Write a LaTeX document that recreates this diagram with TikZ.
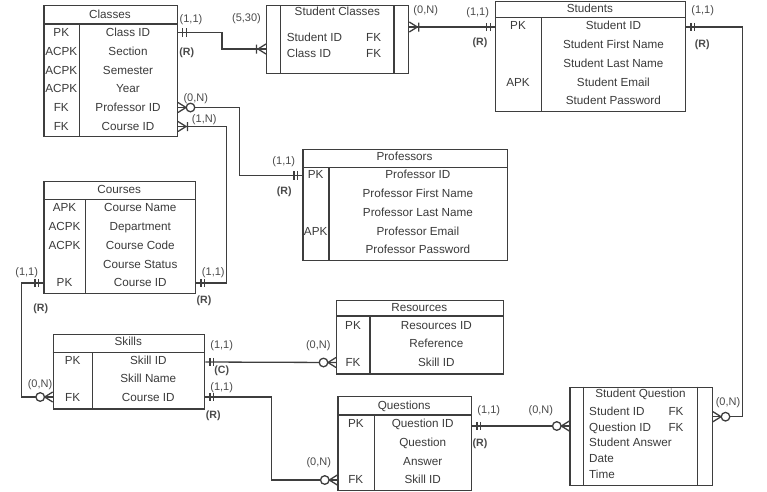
\documentclass[tikz,border=0pt]{standalone}
\usepackage{fontspec}
\setmainfont{Liberation Sans}
\definecolor{boxc}{HTML}{3E3E3E}
\definecolor{txtc}{HTML}{3A3A3A}
\definecolor{lblc}{HTML}{4A4A4A}
\begin{document}
\begin{tikzpicture}[x=1pt,y=-1pt,
  tbox/.style={draw=boxc, line width=1.3pt, inner sep=0pt, anchor=north west},
  tline/.style={draw=boxc, line width=1.3pt},
  conn/.style={draw=boxc, line width=1.3pt},
  txt/.style={font=\fontsize{11.7}{14}\selectfont, text=txtc, inner sep=0pt, text height=8.4pt, text depth=0pt},
  ltxt/.style={txt, anchor=west},
  lbl/.style={font=\fontsize{11}{13}\selectfont, text=lblc, inner sep=0pt, text height=7.9pt, text depth=0pt},
  rlbl/.style={font=\fontsize{10.6}{13}\selectfont\bfseries, text=lblc, inner sep=0pt, text height=7.6pt, text depth=0pt},
  crowone/.pic={\draw[conn] (4.8,-4.2)--(4.8,4.2) (8.3,-4.2)--(8.3,4.2);},
  crowzm/.pic={\draw[conn] (0,-5)--(8,0)--(0,5); \draw[conn,fill=white] (12.5,0) circle (4.3);},
  crowom/.pic={\draw[conn] (0,-5)--(8,0)--(0,5) (9.5,-4.5)--(9.5,4.5);}
]
\useasboundingbox (0,0) rectangle (767,491);

% ---------------- Classes ----------------
\node[tbox, minimum width=133.4pt, minimum height=131pt] (classes) at (43.3,5) {};
\draw[tline] (43.3,24) -- (176.7,24) (79.3,24) -- (79.3,136);
\node[txt] (cl-t) at (110,14) {Classes};
\node[txt] (cl-k1) at (61.3,32.3) {PK};
\node[txt] (cl-k2) at (61.3,51) {ACPK};
\node[txt] (cl-k3) at (61.3,70) {ACPK};
\node[txt] (cl-k4) at (61.3,88.7) {ACPK};
\node[txt] (cl-k5) at (61.3,107.3) {FK};
\node[txt] (cl-k6) at (61.3,126) {FK};
\node[txt] (cl-r1) at (128,32.3) {Class ID};
\node[txt] (cl-r2) at (128,51) {Section};
\node[txt] (cl-r3) at (128,70) {Semester};
\node[txt] (cl-r4) at (128,88.7) {Year};
\node[txt] (cl-r5) at (128,107.3) {Professor ID};
\node[txt] (cl-r6) at (128,126) {Course ID};

% ---------------- Student Classes ----------------
\node[tbox, minimum width=142pt, minimum height=68pt] (sc) at (266,5) {};
\draw[tline] (280.7,5) -- (280.7,73) (394,5) -- (394,73);
\node[txt] (sc-t) at (337.3,11) {Student Classes};
\node[ltxt] (sc-r1) at (286.7,37) {Student ID};
\node[ltxt] (sc-r2) at (286.7,53) {Class ID};
\node[txt] (sc-k1) at (373.7,37) {FK};
\node[txt] (sc-k2) at (373.7,53) {FK};

% ---------------- Students ----------------
\node[tbox, minimum width=190pt, minimum height=110pt] (students) at (495,0.8) {};
\draw[tline] (495,17.3) -- (685,17.3) (541.7,17.3) -- (541.7,110.8);
\node[txt] (st-t) at (590,7.8) {Students};
\node[txt] (st-k1) at (518,25) {PK};
\node[txt] (st-k4) at (518,82) {APK};
\node[txt] (st-r1) at (613.4,25) {Student ID};
\node[txt] (st-r2) at (613.4,44) {Student First Name};
\node[txt] (st-r3) at (613.4,63) {Student Last Name};
\node[txt] (st-r4) at (613.4,82) {Student Email};
\node[txt] (st-r5) at (613.4,100.5) {Student Password};

% ---------------- Professors ----------------
\node[tbox, minimum width=204.4pt, minimum height=111pt] (prof) at (302.3,149) {};
\draw[tline] (302.3,167.3) -- (506.7,167.3) (329,167.3) -- (329,260);
\node[txt] (pr-t) at (404.5,156.5) {Professors};
\node[txt] (pr-k1) at (315.7,174.3) {PK};
\node[txt] (pr-k4) at (315.7,231) {APK};
\node[txt] (pr-r1) at (417.9,174.3) {Professor ID};
\node[txt] (pr-r2) at (417.9,193) {Professor First Name};
\node[txt] (pr-r3) at (417.9,212) {Professor Last Name};
\node[txt] (pr-r4) at (417.9,231) {Professor Email};
\node[txt] (pr-r5) at (417.9,249.5) {Professor Password};

% ---------------- Courses ----------------
\node[tbox, minimum width=151.7pt, minimum height=112pt] (courses) at (43.3,180.7) {};
\draw[tline] (43.3,199.3) -- (195,199.3) (85.7,199.3) -- (85.7,292.7);
\node[txt] (co-t) at (119.2,189) {Courses};
\node[txt] (co-k1) at (64.5,207.7) {APK};
\node[txt] (co-k2) at (64.5,226.7) {ACPK};
\node[txt] (co-k3) at (64.5,245) {ACPK};
\node[txt] (co-k5) at (64.5,282.7) {PK};
\node[txt] (co-r1) at (140.3,207.7) {Course Name};
\node[txt] (co-r2) at (140.3,226.7) {Department};
\node[txt] (co-r3) at (140.3,245) {Course Code};
\node[txt] (co-r4) at (140.3,264) {Course Status};
\node[txt] (co-r5) at (140.3,282.7) {Course ID};

% ---------------- Skills ----------------
\node[tbox, minimum width=151.3pt, minimum height=74.3pt] (skills) at (52.7,334) {};
\draw[tline] (52.7,352.3) -- (204,352.3) (92.7,352.3) -- (92.7,408.3);
\node[txt] (sk-t) at (128.3,341.5) {Skills};
\node[txt] (sk-k1) at (72.7,360) {PK};
\node[txt] (sk-k3) at (72.7,397) {FK};
\node[txt] (sk-r1) at (148.3,360) {Skill ID};
\node[txt] (sk-r2) at (148.3,378.7) {Skill Name};
\node[txt] (sk-r3) at (148.3,397) {Course ID};

% ---------------- Resources ----------------
\node[tbox, minimum width=166.7pt, minimum height=73.3pt] (res) at (336,300) {};
\draw[tline] (336,316) -- (502.7,316) (370,316) -- (370,373.3);
\node[txt] (re-t) at (419.3,307) {Resources};
\node[txt] (re-k1) at (353,325) {PK};
\node[txt] (re-k3) at (353,362.7) {FK};
\node[txt] (re-r1) at (436.3,325) {Resources ID};
\node[txt] (re-r2) at (436.3,343.7) {Reference};
\node[txt] (re-r3) at (436.3,362.7) {Skill ID};

% ---------------- Questions ----------------
\node[tbox, minimum width=133.7pt, minimum height=93.5pt] (quest) at (337.3,396) {};
\draw[tline] (337.3,415) -- (471,415) (374.3,415) -- (374.3,489.5);
\node[txt] (qu-t) at (404.2,405) {Questions};
\node[txt] (qu-k1) at (355.8,423.3) {PK};
\node[txt] (qu-k4) at (355.8,479.7) {FK};
\node[txt] (qu-r1) at (422.7,423.3) {Question ID};
\node[txt] (qu-r2) at (422.7,442) {Question};
\node[txt] (qu-r3) at (422.7,461) {Answer};
\node[txt] (qu-r4) at (422.7,479.7) {Skill ID};

% ---------------- Student Question ----------------
\node[tbox, minimum width=142.4pt, minimum height=98.3pt] (sq) at (569.3,386.7) {};
\draw[tline] (583.3,386.7) -- (583.3,485) (697.7,386.7) -- (697.7,485);
\node[txt] (sq-t) at (640.5,393) {Student Question};
\node[ltxt] (sq-r1) at (589,411.7) {Student ID};
\node[ltxt] (sq-r2) at (589,427) {Question ID};
\node[ltxt] (sq-r3) at (589,442.7) {Student Answer};
\node[ltxt] (sq-r4) at (589,458.7) {Date};
\node[ltxt] (sq-r5) at (589,474) {Time};
\node[txt] (sq-k1) at (676,411.7) {FK};
\node[txt] (sq-k2) at (676,427) {FK};

% ---------------- connector end points ----------------
\coordinate (c1a) at (classes.east |- 0,32.3);
\coordinate (c1b) at (sc.west |- 0,49);
\coordinate (c2a) at (sc.east |- 0,27);
\coordinate (c2b) at (students.west |- 0,27);
\coordinate (c3a) at (students.east |- 0,27);
\coordinate (c3b) at (sq.east |- 0,416.7);
\coordinate (c4a) at (classes.east |- 0,107.5);
\coordinate (c4b) at (prof.west |- 0,175.5);
\coordinate (c5a) at (classes.east |- 0,126.5);
\coordinate (c5b) at (courses.east |- 0,283);
\coordinate (c6a) at (courses.west |- 0,283);
\coordinate (c6b) at (skills.west |- 0,397);
\coordinate (c7a) at (skills.east |- 0,362);
\coordinate (c7b) at (res.west |- 0,362.5);
\coordinate (c8a) at (skills.east |- 0,397);
\coordinate (c8b) at (quest.west |- 0,480);
\coordinate (c9a) at (quest.east |- 0,426);
\coordinate (c9b) at (sq.west |- 0,426);

% ---------------- connectors ----------------
\draw[conn] (c1a) -| (222,49) -- (c1b);
\draw[conn] (c2a) -- (c2b);
\draw[conn] (c3a) -| (742.7,416.7) -- (c3b);
\draw[conn] (c4a) -| (239.3,175.5) -- (c4b);
\draw[conn] (c5a) -| (226.7,283) -- (c5b);
\draw[conn] (c6a) -| (21.7,397) -- (c6b);
\draw[conn] (c7a) -- (c7b);
\draw[conn] (c8a) -| (271.7,480) -- (c8b);
\draw[conn] (c9a) -- (c9b);

% ---------------- end markers ----------------
\path (c1a) pic {crowone};
\path (c1b) pic[rotate=180] {crowom};
\path (c2a) pic {crowom};
\path (c2b) pic[rotate=180] {crowone};
\path (c3a) pic {crowone};
\path (c3b) pic {crowzm};
\path (c4a) pic {crowzm};
\path (c4b) pic[rotate=180] {crowone};
\path (c5a) pic {crowom};
\path (c5b) pic {crowone};
\path (c6a) pic[rotate=180] {crowone};
\path (c6b) pic[rotate=180] {crowzm};
\path (c7a) pic {crowone};
\path (c7b) pic[rotate=180] {crowzm};
\path (c8a) pic {crowone};
\path (c8b) pic[rotate=180] {crowzm};
\path (c9a) pic {crowone};
\path (c9b) pic[rotate=180] {crowzm};

% ---------------- cardinality labels ----------------
\node[lbl] (l1a) at (191,18.3) {(1,1)};
\node[rlbl] (l1r) at (186.7,51.7) {(R)};
\node[lbl] (l1b) at (246.5,17.5) {(5,30)};
\node[lbl] (l2a) at (425.7,9.3) {(0,N)};
\node[lbl] (l2b) at (477.7,12) {(1,1)};
\node[rlbl] (l2r) at (480,42) {(R)};
\node[lbl] (l3a) at (702.7,9.5) {(1,1)};
\node[rlbl] (l3r) at (702.3,43.3) {(R)};
\node[lbl] (l3b) at (728,401.7) {(0,N)};
\node[lbl] (l4a) at (195.8,97.7) {(0,N)};
\node[lbl] (l4b) at (283.8,160.3) {(1,1)};
\node[rlbl] (l4r) at (284.3,191) {(R)};
\node[lbl] (l5a) at (204.2,118.7) {(1,N)};
\node[lbl] (l5b) at (213.3,271.7) {(1,1)};
\node[rlbl] (l5r) at (204,299.3) {(R)};
\node[lbl] (l6a) at (26.7,271.7) {(1,1)};
\node[rlbl] (l6r) at (40.8,307.7) {(R)};
\node[lbl] (l6b) at (40,383.3) {(0,N)};
\node[lbl] (l7a) at (221.7,345) {(1,1)};
\node[rlbl] (l7r) at (221.7,370) {(C)};
\node[lbl] (l7b) at (318.3,345) {(0,N)};
\node[lbl] (l8a) at (221.7,386.7) {(1,1)};
\node[rlbl] (l8r) at (213.3,414.3) {(R)};
\node[lbl] (l8b) at (318.8,461.7) {(0,N)};
\node[lbl] (l9a) at (488.8,410) {(1,1)};
\node[rlbl] (l9r) at (480,442.3) {(R)};
\node[lbl] (l9b) at (540.8,410) {(0,N)};
\end{tikzpicture}
\end{document}
